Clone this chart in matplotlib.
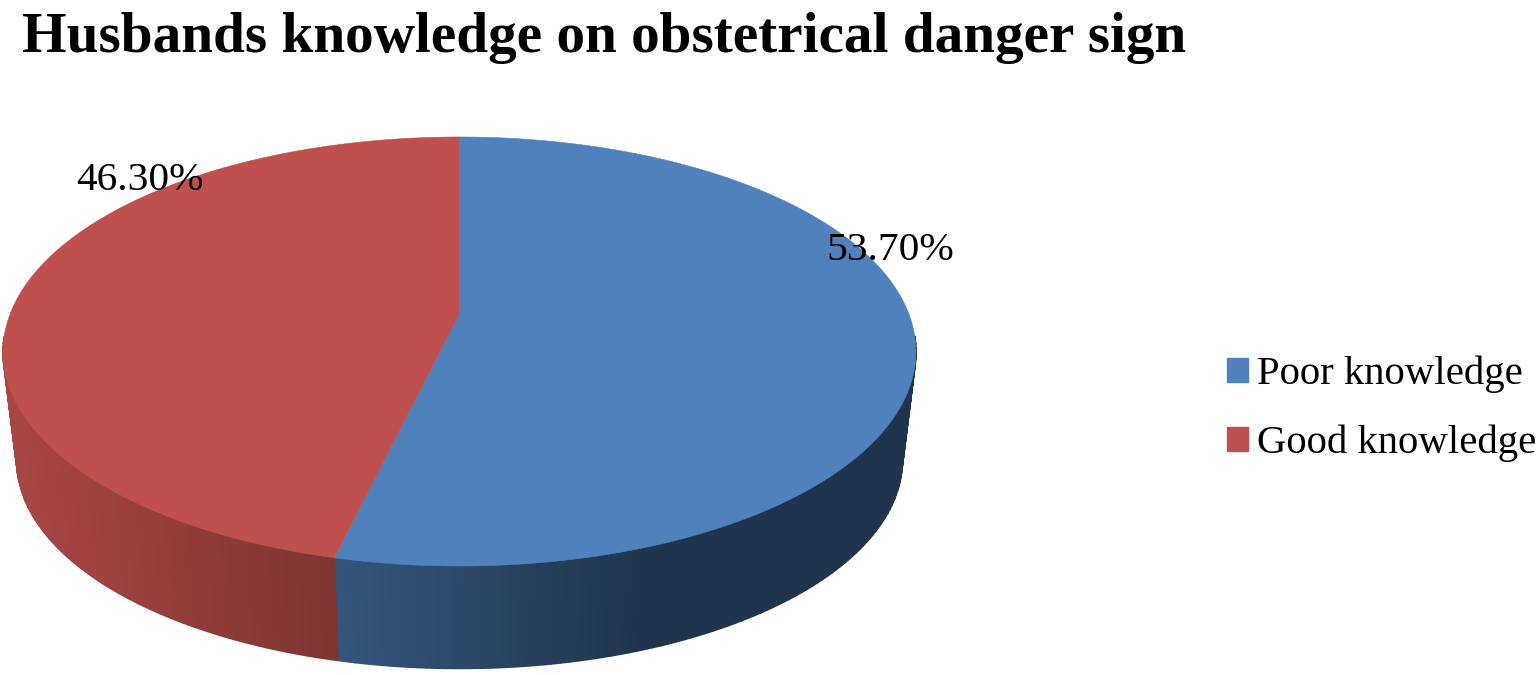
import numpy as np
import matplotlib
matplotlib.use("Agg")
import matplotlib.pyplot as plt
from matplotlib.patches import Polygon, Patch
from matplotlib.collections import PolyCollection
from matplotlib.colors import to_rgb

title = "Husbands knowledge on obstetrical danger sign"
categories = ["Poor knowledge", "Good knowledge"]
values = [53.70, 46.30]
value_labels = ["53.70%", "46.30%"]
colors = ["#4F81BD", "#C0504D"]

W, H = 1537, 675
fig = plt.figure(figsize=(W / 100, H / 100), dpi=100, facecolor="white")
ax = fig.add_axes([0, 0, 1, 1])
ax.set_xlim(0, W)
ax.set_ylim(H, 0)
ax.axis("off")
serif = ["Liberation Serif", "DejaVu Serif"]

# perspective projection of the pie disc
CX, APEX_Y, RX, RY, K = 459.5, 313.0, 449.0, 207.6, 0.1795
BASE_SCALE, BASE_Y = 0.97, 423.0


def project(theta, scale=1.0, y0=APEX_Y):
    """theta: radians clockwise from 12 o'clock."""
    u, v = np.sin(theta), np.cos(theta)
    w = 1 + K * v
    return CX + scale * RX * u / w, y0 - scale * RY * v / w


def shade(x):
    return np.interp(x, [3, 333, 640, 916], [0.88, 0.66, 0.41, 0.41])


fractions = np.array(values) / np.sum(values)
edges = np.concatenate([[0], np.cumsum(fractions)]) * 2 * np.pi

# side wall first (front part only), top surface over it
for start, end, col in zip(edges[:-1], edges[1:], colors):
    t = np.linspace(start, end, 200)
    t = t[np.cos(t) < -0.1]
    xt, yt = project(t)
    xb, yb = project(t, BASE_SCALE, BASE_Y)
    quads, fc = [], []
    base = np.array(to_rgb(col))
    for i in range(len(t) - 1):
        quads.append([(xt[i], yt[i]), (xt[i + 1], yt[i + 1]), (xb[i + 1], yb[i + 1]), (xb[i], yb[i])])
        fc.append(tuple(base * shade((xt[i] + xt[i + 1]) / 2)))
    ax.add_collection(PolyCollection(quads, facecolors=fc, edgecolors=fc, linewidths=1.2, capstyle="butt", joinstyle="bevel"))

for start, end, col in zip(edges[:-1], edges[1:], colors):
    t = np.linspace(start, end, 300)
    xt, yt = project(t)
    pts = np.vstack([[CX, APEX_Y], np.column_stack([xt, yt])])
    ax.add_patch(Polygon(pts, closed=True, facecolor=col, edgecolor=col, linewidth=0.4))

# data labels
label_pos = [(890, 250), (140, 181)]
for txt, (lx, ly) in zip(value_labels, label_pos):
    ax.text(lx, ly, txt, ha="center", va="center", fontsize=29.8, family=serif, color="black")

ax.text(22, 38, title, ha="left", va="center", fontsize=41.2, fontweight="bold", family=serif, color="black")

handles = [Patch(facecolor=c, edgecolor=c, label=n) for c, n in zip(colors, categories)]
ax.legend(handles=handles, loc="center left", bbox_to_anchor=(1227 / W, 1 - 409 / H),
          bbox_transform=ax.transAxes, frameon=False, prop={"family": serif, "size": 29.3},
          handlelength=0.52, handleheight=0.52, handletextpad=0.22, labelspacing=0.78,
          borderpad=0, borderaxespad=0)

fig.savefig("out.png", dpi=100, facecolor="white")
